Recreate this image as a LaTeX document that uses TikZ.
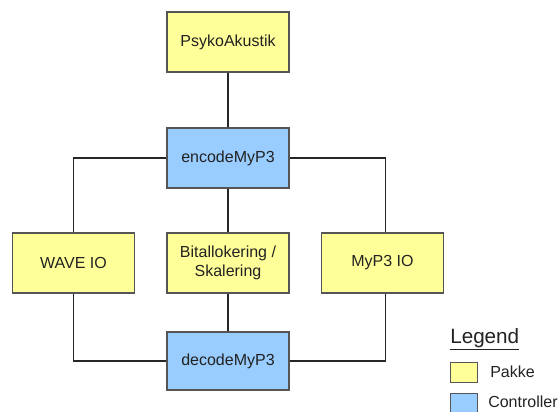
\documentclass[tikz,border=0pt]{standalone}
\usepackage{fontspec}
\setmainfont{Liberation Sans}
\usetikzlibrary{positioning}
\definecolor{pakkefill}{HTML}{FFFF99}
\definecolor{ctrlfill}{HTML}{99CCFF}
\definecolor{boxline}{HTML}{555555}
\definecolor{textcol}{HTML}{222222}
\tikzset{
  box/.style={draw=boxline, line width=1pt, minimum width=91.5pt, minimum height=45pt,
    inner sep=0pt, align=center, font=\fontsize{12}{14.5}\selectfont, text=textcol},
  pakke/.style={box, fill=pakkefill},
  ctrl/.style={box, fill=ctrlfill},
  swatch/.style={draw=boxline, line width=0.8pt, minimum width=20pt, minimum height=15pt, inner sep=0pt},
  link/.style={draw=black!85, line width=1pt}
}
\begin{document}
\begin{tikzpicture}[x=0.75pt, y=-0.75pt]
  \useasboundingbox (0,0) rectangle (559,411);
  % boxes
  \node[pakke] (psyko) at (228,42) {PsykoAkustik};
  \node[ctrl] (encode) at (228,158) {encodeMyP3};
  \node[pakke] (wave) at (73.5,263) {WAVE IO};
  \node[pakke] (bitalloc) at (228,263) {Bitallokering /\\Skalering};
  \node[pakke] (myp3) at (382.5,263) {MyP3 IO};
  \node[ctrl, minimum height=43.5pt] (decode) at (228,361) {decodeMyP3};
  % connections
  \draw[link] (psyko) -- (encode);
  \draw[link] (encode) -- (bitalloc);
  \draw[link] (bitalloc) -- (decode);
  \draw[link] (encode.west) -| (wave.north);
  \draw[link] (encode.east) -| ([xshift=2.25pt]myp3.north);
  \draw[link] (wave.south) |- (decode.west);
  \draw[link] ([xshift=2.25pt]myp3.south) |- (decode.east);
  % legend
  \node[anchor=base west, inner sep=0pt, text=textcol, font=\fontsize{15.5}{18}\selectfont] (legend) at (450,343) {\underline{Legend}};
  \node[swatch, fill=pakkefill, anchor=north west] (swpakke) at (450,362) {};
  \node[swatch, fill=ctrlfill, anchor=north west] (swctrl) at (450,393) {};
  \node[anchor=west, inner sep=0pt, text=textcol, font=\fontsize{12}{14}\selectfont] (lblpakke) at (490,372) {Pakke};
  \node[anchor=west, inner sep=0pt, text=textcol, font=\fontsize{12}{14}\selectfont] (lblctrl) at (488,402) {Controller};
\end{tikzpicture}
\end{document}
